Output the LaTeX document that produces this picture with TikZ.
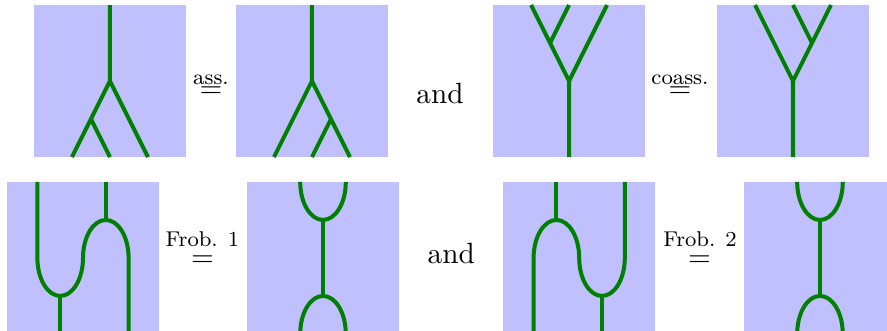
\documentclass[tikz,border=0pt,11pt]{standalone}
\usepackage{amsmath}
\usepackage{tikz}
\definecolor{wireGreen}{HTML}{008000}
\definecolor{boxBlue}{HTML}{C0C0FF}

\begin{document}
\begin{tikzpicture}[x=1cm,y=1cm,
  wire/.style={wireGreen,line width=1.5pt},
  lab/.style={anchor=base,font=\scriptsize,inner sep=0pt},
  rel/.style={anchor=base,inner sep=0pt}]
\clip (0,0) rectangle (11.671,4.355);
% backgrounds
\foreach \x/\y in {1.447/3.289,4.105/3.289,7.487/3.289,10.434/3.289,
                   1.092/0.961,4.250/0.961,7.621/0.961,10.789/0.961}
  \fill[boxBlue] (\x-1,\y-1) rectangle (\x+1,\y+1);
% associativity
\begin{scope}[shift={(1.447,3.289)}]
  \draw[wire] (0,1) -- (0,0) -- (-0.5,-1);
  \draw[wire] (0,0) -- (0.5,-1);
  \draw[wire] (-0.25,-0.5) -- (0,-1);
\end{scope}
\begin{scope}[shift={(4.105,3.289)}]
  \draw[wire] (0,1) -- (0,0) -- (0.5,-1);
  \draw[wire] (0,0) -- (-0.5,-1);
  \draw[wire] (0.25,-0.5) -- (0,-1);
\end{scope}
% coassociativity
\begin{scope}[shift={(7.487,3.289)}]
  \draw[wire] (0,-1) -- (0,0) -- (-0.5,1);
  \draw[wire] (0,0) -- (0.5,1);
  \draw[wire] (-0.25,0.5) -- (0,1);
\end{scope}
\begin{scope}[shift={(10.434,3.289)}]
  \draw[wire] (0,-1) -- (0,0) -- (0.5,1);
  \draw[wire] (0,0) -- (-0.5,1);
  \draw[wire] (0.25,0.5) -- (0,1);
\end{scope}
% Frobenius 1
\begin{scope}[shift={(1.092,0.961)}]
  \draw[wire] (-0.6,1) -- (-0.6,0)
    arc[start angle=180,end angle=360,x radius=0.3,y radius=0.5]
    arc[start angle=180,end angle=0,x radius=0.3,y radius=0.5] -- (0.6,-1);
  \draw[wire] (-0.3,-0.5) -- (-0.3,-1);
  \draw[wire] (0.3,0.5) -- (0.3,1);
\end{scope}
\begin{scope}[shift={(4.250,0.961)}]
  \draw[wire] (-0.3,1) arc[start angle=180,end angle=360,x radius=0.3,y radius=0.5];
  \draw[wire] (0,0.5) -- (0,-0.5);
  \draw[wire] (-0.3,-1) arc[start angle=180,end angle=0,x radius=0.3,y radius=0.5];
\end{scope}
% Frobenius 2
\begin{scope}[shift={(7.621,0.961)}]
  \draw[wire] (0.6,1) -- (0.6,0)
    arc[start angle=0,end angle=-180,x radius=0.3,y radius=0.5]
    arc[start angle=0,end angle=180,x radius=0.3,y radius=0.5] -- (-0.6,-1);
  \draw[wire] (0.3,-0.5) -- (0.3,-1);
  \draw[wire] (-0.3,0.5) -- (-0.3,1);
\end{scope}
\begin{scope}[shift={(10.789,0.961)}]
  \draw[wire] (-0.3,1) arc[start angle=180,end angle=360,x radius=0.3,y radius=0.5];
  \draw[wire] (0,0.5) -- (0,-0.5);
  \draw[wire] (-0.3,-1) arc[start angle=180,end angle=0,x radius=0.3,y radius=0.5];
\end{scope}
% labels
\node[lab] (ass) at (2.776,3.237) {ass.};
\node[rel] (assEq) at (2.776,3.072) {$=$};
\node[anchor=base] (andTop) at (5.789,2.996) {and};
\node[lab] (coass) at (8.947,3.237) {coass.};
\node[rel] (coassEq) at (8.947,3.072) {$=$};
\node[lab] (frobA) at (2.664,1.109) {Frob. 1};
\node[rel] (frobAEq) at (2.664,0.855) {$=$};
\node[anchor=base] (andBot) at (5.938,0.891) {and};
\node[lab] (frobB) at (9.211,1.114) {Frob. 2};
\node[rel] (frobBEq) at (9.204,0.849) {$=$};
\end{tikzpicture}
\end{document}
